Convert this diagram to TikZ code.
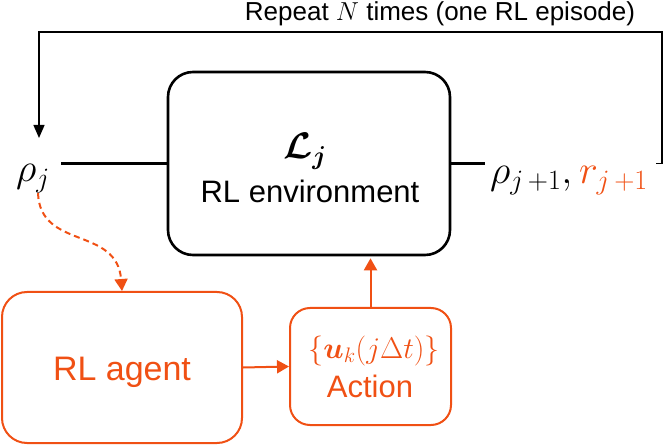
\documentclass[tikz,border=0pt]{standalone}
\usepackage{fix-cm}
\usepackage[no-math]{fontspec}
\setmainfont{Liberation Sans}
\usepackage{amsmath,bm}
\usetikzlibrary{arrows.meta}
\definecolor{agentorange}{RGB}{240,80,20}
\tikzset{
  envbox/.style={draw=black, line width=2.6pt, rounded corners=25pt, minimum width=282pt, minimum height=183pt, inner sep=0pt},
  obox/.style={draw=agentorange, line width=2pt, text=agentorange, inner sep=0pt},
  mtext/.style={inner sep=0pt, anchor=base},
  thickline/.style={line width=2.6pt},
  fb/.style={line width=1.3pt, -{Triangle[width=11pt,length=13pt]}},
  oarrow/.style={agentorange, line width=2pt, -{Triangle[width=13pt,length=12pt]}},
  odash/.style={oarrow, dash pattern=on 6pt off 4pt}
}
\begin{document}
\begin{tikzpicture}[x=1pt,y=-1pt]
\useasboundingbox (0,0) rectangle (664,446);
% environment
\node[envbox] (env) at (309,163.5) {};
\node[mtext] (lj) at (305,159) {\fontsize{37}{40}\selectfont $\bm{\mathcal{L}_j}$};
\node[mtext] (envlabel) at (310,203) {\fontsize{31}{36}\selectfont RL environment};
% agent and action
\node[obox, rounded corners=25pt, minimum width=240pt, minimum height=151pt] (agent) at (122,367.5) {};
\node[mtext, text=agentorange] (agentlabel) at (122,380) {\fontsize{34}{40}\selectfont RL agent};
\node[obox, rounded corners=20pt, minimum width=161pt, minimum height=117pt] (action) at (370.5,366.5) {};
\node[mtext, text=agentorange] (actmath) at (374,358) {\fontsize{30}{34}\selectfont $\{\bm{u}_k(j\Delta t)\}$};
\node[mtext, text=agentorange] (actlabel) at (370,397) {\fontsize{31}{36}\selectfont Action};
% states
\node[mtext] (rhoj) at (33,182) {\fontsize{40}{44}\selectfont $\rho_j$};
\node[mtext, anchor=base west] (rhoout) at (490,184) {\fontsize{40}{44}\selectfont $\rho_{j\,+1},\textcolor{agentorange}{r_{j\,+1}}$};
% top label
\node[mtext] (rep) at (440,21) {\fontsize{26}{30}\selectfont Repeat $N$ times (one RL episode)};
% coordinates for the feedback loop
\coordinate (tickS) at (656,163.5);
\coordinate (fbR) at (662,32);
\coordinate (fbL) at (39,32);
\coordinate (fbE) at (39,138);
\coordinate (dashS) at (38,193);
\coordinate (lineL) at (61,163.5);
\coordinate (lineR) at (485,163.5);
% connectors
\draw[thickline] (lineL) -- (env.west);
\draw[thickline] (env.east) -- (lineR);
\draw[fb] (tickS) -- (tickS -| fbR) -- (fbR) -- (fbL) -- (fbE);
\draw[odash] (dashS) .. controls (40,250) and (117,226) .. (agent.north);
\draw[oarrow] (agent.east) -- (action.west);
\draw[oarrow] (action.north) -- ([yshift=-2pt]action.north |- env.south);
\end{tikzpicture}
\end{document}
